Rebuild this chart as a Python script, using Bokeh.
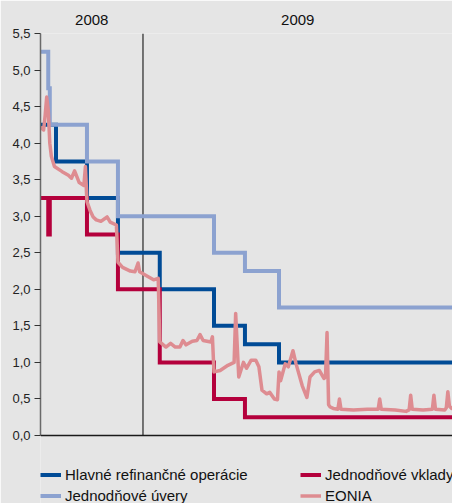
import numpy as np
from bokeh.plotting import figure
from bokeh.models import (ColumnDataSource, Range1d, FixedTicker, CustomJSTickFormatter,
                          Legend, LegendItem, Span, LinearAxis)
from bokeh.embed import file_html
from bokeh.resources import INLINE

# ---------------- data ----------------
START = "2008-10-01"
END = "2009-10-16"
# TARGET holidays (the horizontal axis counts trading days)
HOLIDAYS = ["2008-12-25", "2008-12-26", "2009-01-01", "2009-04-10", "2009-04-13", "2009-05-01"]

year_labels = ["2008", "2009"]
year_boundary = 66.17         # trading-day position of the year divider
y_ticks = [0.0, 0.5, 1.0, 1.5, 2.0, 2.5, 3.0, 3.5, 4.0, 4.5, 5.0, 5.5]

mro_dates = ["2008-10-01", "2008-10-15", "2008-11-12", "2008-12-10", "2009-01-21",
             "2009-03-11", "2009-04-08", "2009-05-13", END]
mro_values = [4.25, 3.75, 3.25, 2.50, 2.00, 1.50, 1.25, 1.00, 1.00]

mlf_dates = ["2008-10-01", "2008-10-08", "2008-10-09", "2008-11-12", "2008-12-10",
             "2009-01-21", "2009-03-11", "2009-04-08", "2009-05-13", END]
mlf_values = [5.25, 4.75, 4.25, 3.75, 3.00, 3.00, 2.50, 2.25, 1.75, 1.75]

dep_dates = ["2008-10-01", "2008-10-08", "2008-10-09", "2008-11-12", "2008-12-10",
             "2009-01-21", "2009-03-11", "2009-04-08", END]
dep_values = [3.25, 2.75, 3.25, 2.75, 2.00, 1.00, 0.50, 0.25, 0.25]

eonia_dates = [
    "2008-10-01", "2008-10-03", "2008-10-06", "2008-10-07", "2008-10-08", "2008-10-09",
    "2008-10-10", "2008-10-14", "2008-10-21", "2008-10-27", "2008-10-29", "2008-10-31",
    "2008-11-05", "2008-11-10", "2008-11-11", "2008-11-12", "2008-11-14", "2008-11-18",
    "2008-11-20", "2008-11-25", "2008-12-01", "2008-12-03", "2008-12-09", "2008-12-10",
    "2008-12-15", "2008-12-22", "2008-12-29", "2008-12-31", "2009-01-02", "2009-01-09",
    "2009-01-15", "2009-01-20", "2009-01-21", "2009-01-27", "2009-01-30", "2009-02-04",
    "2009-02-09", "2009-02-11", "2009-02-13", "2009-02-19", "2009-02-24", "2009-02-26",
    "2009-03-02", "2009-03-09", "2009-03-10", "2009-03-11", "2009-03-17", "2009-03-24",
    "2009-03-30", "2009-03-31", "2009-04-02", "2009-04-07", "2009-04-09", "2009-04-16",
    "2009-04-21", "2009-04-23", "2009-04-27", "2009-04-30", "2009-05-05", "2009-05-08",
    "2009-05-12", "2009-05-13", "2009-05-14", "2009-05-19", "2009-05-21", "2009-05-26",
    "2009-05-28", "2009-06-03", "2009-06-08", "2009-06-10", "2009-06-15", "2009-06-18",
    "2009-06-23", "2009-06-24", "2009-06-25", "2009-06-26", "2009-06-29", "2009-07-01",
    "2009-07-06", "2009-07-07", "2009-07-08", "2009-07-20", "2009-07-31", "2009-08-11",
    "2009-08-12", "2009-08-13", "2009-08-26", "2009-09-04", "2009-09-08", "2009-09-09",
    "2009-09-10", "2009-09-21", "2009-09-29", "2009-09-30", "2009-10-01", "2009-10-09",
    "2009-10-12", "2009-10-13", "2009-10-14", "2009-10-16"]
eonia_values = [
    4.22, 4.18, 4.38, 4.63, 4.45, 4.00,
    3.82, 3.68, 3.61, 3.56, 3.52, 3.62,
    3.46, 3.42, 3.68, 3.20, 3.08, 2.99,
    2.95, 2.93, 2.99, 2.92, 2.88, 2.37,
    2.30, 2.25, 2.24, 2.36, 2.24, 2.18,
    2.13, 2.15, 1.28, 1.21, 1.26, 1.21,
    1.21, 1.30, 1.24, 1.29, 1.30, 1.38,
    1.30, 1.28, 1.35, 0.87, 0.89, 0.96,
    1.00, 1.67, 0.80, 1.00, 0.92, 1.03,
    1.03, 0.94, 0.62, 0.57, 0.59, 0.50,
    0.49, 0.87, 0.75, 0.98, 0.94, 1.16,
    0.98, 0.68, 0.52, 0.80, 0.87, 0.89,
    0.78, 0.80, 1.41, 0.42, 0.39, 0.37,
    0.36, 0.50, 0.36, 0.35, 0.36, 0.36,
    0.50, 0.36, 0.35, 0.33, 0.35, 0.55,
    0.36, 0.35, 0.36, 0.55, 0.36, 0.35,
    0.38, 0.60, 0.40, 0.36]

series_names = ["Hlavné refinančné operácie", "Jednodňové úvery", "Jednodňové vklady", "EONIA"]

# ---------------- styling / layout ----------------
BG = "#e5e5e5"
C_MRO = "#004b96"
C_MLF = "#8ca2d0"
C_DEP = "#b4003c"
C_EON = "#de8c91"
FONT = "Liberation Sans"
W, H = 452, 503
TOP, LEFT = 33, 40           # frame offsets
AXIS_BOTTOM_PX = 435         # pixel row of the value 0
Y_MAX = 5.5


def tday(dates):
    return np.busday_count(START, np.array(dates, dtype="datetime64[D]"), holidays=HOLIDAYS)


x_end = float(tday([END])[0])
# frame reaches the bottom of the canvas so that the legend below the axis is not clipped
y_min = -Y_MAX * (H - AXIS_BOTTOM_PX) / (AXIS_BOTTOM_PX - TOP)

p = figure(width=W, height=H, output_backend="svg", toolbar_location=None,
           x_range=Range1d(0, x_end), y_range=Range1d(y_min, Y_MAX),
           min_border_left=LEFT, min_border_right=0, min_border_top=TOP, min_border_bottom=0,
           background_fill_color=BG, border_fill_color=BG, outline_line_color=None)
p.xgrid.visible = False
p.ygrid.visible = False
p.xaxis.visible = False

# y axis
p.yaxis.bounds = (0, Y_MAX)
p.yaxis.ticker = FixedTicker(ticks=y_ticks)
p.yaxis.formatter = CustomJSTickFormatter(code="return tick.toFixed(1).replace('.', ',')")
p.yaxis.axis_line_color = "#6a6a6a"
p.yaxis.axis_line_width = 1.5
p.yaxis.major_tick_line_color = "#333333"
p.yaxis.major_tick_in = 0
p.yaxis.major_tick_out = 6
p.yaxis.minor_tick_line_color = None
p.yaxis.major_label_standoff = 4
p.yaxis.major_label_text_font = FONT
p.yaxis.major_label_text_font_size = "13px"
p.yaxis.major_label_text_color = "#222222"

# top axis carrying the year labels, centred in each year's visible span
year_axis = LinearAxis(
    ticker=FixedTicker(ticks=[year_boundary / 2, (year_boundary + x_end) / 2]),
    formatter=CustomJSTickFormatter(args=dict(labels=year_labels, b=year_boundary),
                                    code="return tick < b ? labels[0] : labels[1]"),
    axis_line_color=None, major_tick_line_color=None, minor_tick_line_color=None,
    major_label_standoff=3, major_label_text_font=FONT, major_label_text_font_size="15px",
    major_label_text_color="#111111")
p.add_layout(year_axis, "above")

src_mro = ColumnDataSource(dict(x=tday(mro_dates), y=mro_values))
src_mlf = ColumnDataSource(dict(x=tday(mlf_dates), y=mlf_values))
src_dep = ColumnDataSource(dict(x=tday(dep_dates), y=dep_values))
src_eon = ColumnDataSource(dict(x=tday(eonia_dates), y=eonia_values))

# year divider (from 0 to the top of the value axis) and baseline
p.segment(x0=[year_boundary], y0=[0], x1=[year_boundary], y1=[Y_MAX], line_color="black", line_width=1)
p.add_layout(Span(location=0, dimension="width", line_color="#1a1a1a", line_width=1.5))

r_mro = p.step("x", "y", source=src_mro, mode="after", line_color=C_MRO, line_width=4, line_join="miter")
r_dep = p.step("x", "y", source=src_dep, mode="after", line_color=C_DEP, line_width=4, line_join="miter")
r_mlf = p.step("x", "y", source=src_mlf, mode="after", line_color=C_MLF, line_width=4, line_join="miter")
r_eon = p.line("x", "y", source=src_eon, line_color=C_EON, line_width=3.5, line_join="round")

legend = Legend(items=[LegendItem(label=series_names[0], renderers=[r_mro]),
                       LegendItem(label=series_names[1], renderers=[r_mlf]),
                       LegendItem(label=series_names[2], renderers=[r_dep]),
                       LegendItem(label=series_names[3], renderers=[r_eon])],
                location=(0, -2.5), orientation="vertical", ncols=2,
                glyph_width=21, glyph_height=21, label_height=21, label_width=235,
                label_standoff=4, spacing=0, padding=0, margin=0,
                background_fill_alpha=0, border_line_color=None,
                label_text_font=FONT, label_text_font_size="15px", label_text_color="#111111")
p.add_layout(legend)

html = file_html(p, INLINE)
open("out.html", "w").write(html)
